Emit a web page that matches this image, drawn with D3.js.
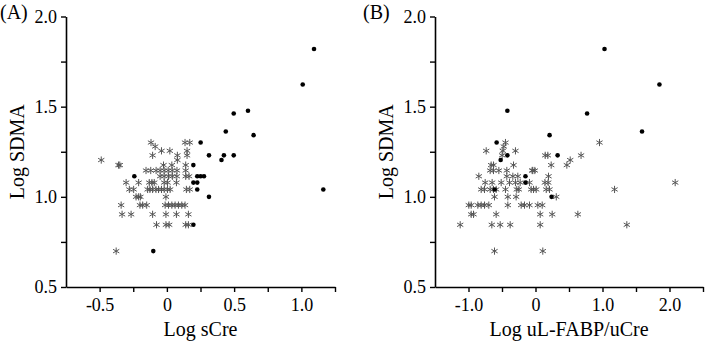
<!DOCTYPE html>
<html>
<head>
<meta charset="utf-8">
<script src="https://cdn.jsdelivr.net/npm/d3@7"></script>
<style>
  body { margin: 0; background: #fff; }
  svg { display: block; }
  text { font-family: "Liberation Serif", "Times New Roman", Tinos, serif; fill: #000; }
</style>
</head>
<body>
<svg id="chart" width="709" height="343"></svg>
<script>
const sCreStars = [
  [-0.118, 1.301], [0.135, 1.301], [0.170, 1.301],
  [-0.087, 1.279],
  [-0.040, 1.255], [0.022, 1.255], [0.150, 1.255],
  [-0.106, 1.230], [0.078, 1.230], [0.150, 1.230],
  [-0.488, 1.204], [0.078, 1.204],
  [-0.360, 1.176], [-0.350, 1.176], [-0.025, 1.176], [0.037, 1.176], [0.140, 1.176],
  [-0.155, 1.146], [-0.120, 1.146], [-0.080, 1.146], [-0.050, 1.146], [-0.020, 1.146],
  [0.010, 1.146], [0.040, 1.146], [0.075, 1.146], [0.140, 1.146],
  [-0.050, 1.114], [-0.020, 1.114], [0.012, 1.114], [0.041, 1.114], [0.074, 1.114],
  [0.140, 1.114], [0.165, 1.114],
  [-0.303, 1.079], [-0.210, 1.079], [-0.131, 1.079], [-0.111, 1.079], [-0.094, 1.079],
  [-0.020, 1.079], [0.005, 1.079], [0.071, 1.079],
  [-0.279, 1.041], [-0.247, 1.041], [-0.143, 1.041], [-0.126, 1.041], [-0.106, 1.041],
  [-0.081, 1.041], [-0.062, 1.041], [-0.040, 1.041], [-0.020, 1.041], [0.005, 1.041],
  [0.024, 1.041], [0.145, 1.041], [0.170, 1.041],
  [-0.229, 1.000], [-0.210, 1.000], [-0.197, 1.000], [-0.007, 1.000],
  [-0.340, 0.954], [-0.200, 0.954], [-0.180, 0.954], [-0.150, 0.954], [-0.013, 0.954],
  [0.012, 0.954], [0.037, 0.954], [0.061, 0.954], [0.086, 0.954], [0.111, 0.954], [0.135, 0.954],
  [-0.333, 0.903], [-0.266, 0.903], [-0.106, 0.903], [-0.007, 0.903], [0.071, 0.903], [0.160, 0.903],
  [-0.077, 0.845], [-0.007, 0.845], [0.017, 0.845], [0.140, 0.845], [0.160, 0.845],
  [-0.377, 0.699]
];
const sCreDots = [
  [0.251, 1.301], [0.313, 1.230], [0.197, 1.176], [-0.242, 1.114], [0.226, 1.114],
  [0.251, 1.114], [0.276, 1.114], [0.197, 1.079], [0.226, 1.079], [0.226, 1.041],
  [0.313, 1.000], [0.197, 0.845], [-0.101, 0.699], [1.094, 1.820], [1.010, 1.623],
  [0.497, 1.462], [0.603, 1.477], [0.438, 1.362], [0.645, 1.342], [0.424, 1.230],
  [0.497, 1.230], [0.406, 1.204], [1.163, 1.041]
];
const fabpStars = [
  [-0.448, 1.301], [0.955, 1.301],
  [-0.473, 1.279],
  [-0.736, 1.255], [-0.488, 1.255], [-0.299, 1.255],
  [-0.498, 1.230], [0.145, 1.230], [0.184, 1.230], [0.680, 1.230],
  [0.518, 1.204],
  [-0.662, 1.176], [-0.627, 1.176], [-0.328, 1.176], [0.234, 1.176], [0.468, 1.176],
  [-0.677, 1.146], [-0.627, 1.146], [-0.547, 1.146], [-0.428, 1.146], [-0.050, 1.146],
  [-0.040, 1.146], [-0.010, 1.146],
  [-0.846, 1.114], [-0.428, 1.114], [-0.338, 1.114], [-0.264, 1.114], [0.194, 1.114],
  [-0.751, 1.079], [-0.647, 1.079], [-0.512, 1.079], [-0.388, 1.079], [-0.299, 1.079],
  [-0.229, 1.079], [-0.090, 1.079], [0.140, 1.079], [0.190, 1.079], [2.085, 1.079],
  [-0.811, 1.041], [-0.761, 1.041], [-0.677, 1.041], [-0.627, 1.041], [-0.587, 1.041],
  [-0.448, 1.041], [-0.279, 1.041], [-0.249, 1.041], [-0.065, 1.041], [-0.030, 1.041],
  [0.010, 1.041], [0.160, 1.041], [0.209, 1.041], [1.180, 1.041],
  [-0.612, 1.000], [-0.413, 1.000], [-0.289, 1.000], [0.310, 1.000],
  [-0.995, 0.954], [-0.960, 0.954], [-0.861, 0.954], [-0.811, 0.954], [-0.761, 0.954],
  [-0.697, 0.954], [-0.413, 0.954], [-0.214, 0.954], [-0.164, 0.954], [-0.090, 0.954],
  [0.035, 0.954], [0.100, 0.954],
  [-0.960, 0.903], [-0.925, 0.903], [-0.587, 0.903], [0.070, 0.903], [0.249, 0.903], [0.632, 0.903],
  [-1.124, 0.845], [-0.652, 0.845], [-0.527, 0.845], [-0.378, 0.845], [0.070, 0.845], [1.363, 0.845],
  [-0.612, 0.699], [0.109, 0.699]
];
const fabpDots = [
  [1.030, 1.820], [1.850, 1.623], [0.770, 1.462], [1.590, 1.362], [-0.420, 1.477],
  [0.210, 1.342], [-0.580, 1.301], [-0.420, 1.230], [0.330, 1.230], [-0.520, 1.204],
  [-0.610, 1.041], [-0.150, 1.114], [-0.150, 1.079], [0.240, 1.000]
];

const yDomain = [0.5, 2.0];
const yTicks = [0.5, 0.75, 1.0, 1.25, 1.5, 1.75, 2.0];
const yLabels = [0.5, 1.0, 1.5, 2.0];

const xDomainA = [-0.75, 1.25];
const xTicksA = [-0.5, -0.25, 0, 0.25, 0.5, 0.75, 1.0, 1.25];
const xLabelsA = [-0.5, 0, 0.5, 1.0];

const xDomainB = [-1.5, 2.5];
const xTicksB = [-1.0, -0.5, 0, 0.5, 1.0, 1.5, 2.0, 2.5];
const xLabelsB = [-1.0, 0, 1.0, 2.0];

const svg = d3.select('#chart');
const fmt = d => d === 0 ? '0' : d.toFixed(1);
const serif = '"Liberation Serif", "Times New Roman", Tinos, serif';

const star = d3.symbol().type(d3.symbolAsterisk).size(36);

function panel(opts) {
    const x = d3.scaleLinear().domain(opts.xDomain).range([opts.left, opts.right]);
    const y = d3.scaleLinear().domain(yDomain).range([287, 16.5]);

    const xAxis = d3.axisBottom(x)
        .tickValues(opts.xTicks)
        .tickSizeInner(5)
        .tickSizeOuter(0)
        .tickPadding(6)
        .tickFormat(d => opts.xLabels.includes(d) ? fmt(d) : '');

    const yAxis = d3.axisLeft(y)
        .tickValues(yTicks)
        .tickSizeInner(5)
        .tickSizeOuter(0)
        .tickPadding(4)
        .tickFormat(d => yLabels.includes(d) ? fmt(d) : '');

    const gx = svg.append('g').attr('transform', 'translate(0,' + y(0.5) + ')').call(xAxis);
    const gy = svg.append('g').attr('transform', 'translate(' + opts.left + ',0)').call(yAxis);

    [gx, gy].forEach(g => {
        g.attr('font-family', serif);
        g.select('.domain').attr('stroke', '#000').attr('stroke-width', 1.6);
        g.selectAll('.tick line').attr('stroke', '#000').attr('stroke-width', 1.4);
        g.selectAll('.tick text')
            .style('font-family', serif)
            .style('font-size', '18px')
            .attr('fill', '#000');
    });

    svg.append('g').selectAll('path').data(opts.stars).enter().append('path')
        .attr('transform', d => 'translate(' + x(d[0]) + ',' + y(d[1]) + ')')
        .attr('d', star)
        .attr('fill', 'none')
        .attr('stroke', '#555')
        .attr('stroke-width', 1);

    svg.append('g').selectAll('circle').data(opts.dots).enter().append('circle')
        .attr('cx', d => x(d[0]))
        .attr('cy', d => y(d[1]))
        .attr('r', 2.3)
        .attr('fill', '#000');

    svg.append('text')
        .attr('x', (opts.left + opts.right) / 2)
        .attr('y', 336)
        .attr('text-anchor', 'middle')
        .style('font-size', '20px')
        .text(opts.xTitle);

    svg.append('text')
        .attr('transform', 'translate(' + (opts.left - 42) + ',' + ((y(0.5) + y(2.0)) / 2) + ') rotate(-90)')
        .attr('text-anchor', 'middle')
        .style('font-size', '20px')
        .text('Log SDMA');

    svg.append('text')
        .attr('x', opts.tagX)
        .attr('y', 19)
        .style('font-size', '20px')
        .text(opts.tag);
}

panel({
    tag: '(A)', tagX: 0,
    left: 66, right: 335,
    xDomain: xDomainA, xTicks: xTicksA, xLabels: xLabelsA,
    stars: sCreStars, dots: sCreDots,
    xTitle: 'Log sCre'
});

panel({
    tag: '(B)', tagX: 363,
    left: 435, right: 703,
    xDomain: xDomainB, xTicks: xTicksB, xLabels: xLabelsB,
    stars: fabpStars, dots: fabpDots,
    xTitle: 'Log uL-FABP/uCre'
});
</script>
</body>
</html>
